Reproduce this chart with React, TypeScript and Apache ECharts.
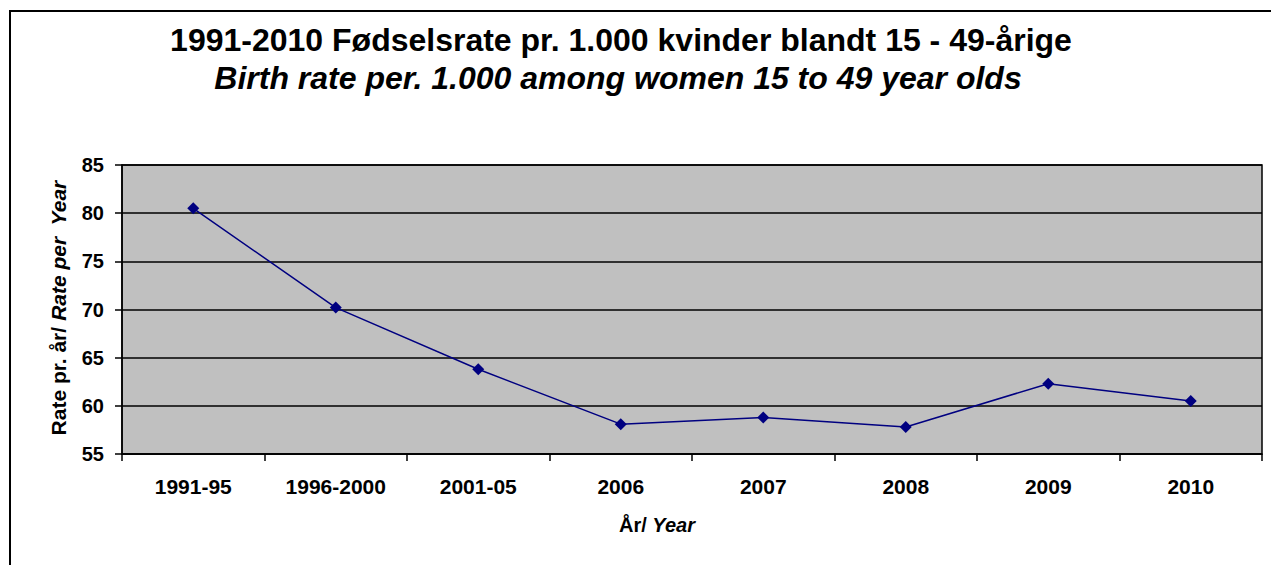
import React, { useEffect, useRef } from "react";
import * as echarts from "echarts";

const categories = ["1991-95", "1996-2000", "2001-05", "2006", "2007", "2008", "2009", "2010"];
const birthRate = [80.5, 70.2, 63.8, 58.1, 58.8, 57.8, 62.3, 60.5];
const yTicks = [55, 60, 65, 70, 75, 80, 85];
const titleLine1 = "1991-2010 Fødselsrate pr. 1.000 kvinder blandt 15 - 49-årige";
const titleLine2 = "Birth rate per. 1.000 among women 15 to 49 year olds";
const yTitleNormal = "Rate pr. år/ ";
const yTitleItalic = "Rate per  Year";
const xTitleNormal = "År/ ";
const xTitleItalic = "Year";

const FONT = "'Liberation Sans', Arial, sans-serif";

export default function App() {
  const ref = useRef<HTMLDivElement>(null);
  useEffect(() => {
    if (!ref.current) return;
    const chart = echarts.init(ref.current, null, { renderer: "svg" });
    chart.setOption({
      animation: false,
      backgroundColor: "#ffffff",
      textStyle: { fontFamily: FONT },
      grid: {
        left: 122,
        top: 165,
        right: 9,
        bottom: 111,
        show: true,
        backgroundColor: "#C0C0C0",
        borderColor: "#000000",
        borderWidth: 1.5,
        containLabel: false,
      },
      xAxis: {
        type: "category",
        data: categories,
        boundaryGap: true,
        axisLine: { show: true, lineStyle: { color: "#000", width: 1.5 } },
        axisTick: { show: true, length: 7, lineStyle: { color: "#000", width: 1.5 } },
        axisLabel: {
          color: "#000",
          fontFamily: FONT,
          fontWeight: "bold",
          fontSize: 21,
          margin: 22,
        },
        splitLine: { show: false },
      },
      yAxis: {
        type: "value",
        min: yTicks[0],
        max: yTicks[yTicks.length - 1],
        interval: 5,
        axisLine: { show: true, lineStyle: { color: "#000", width: 1.5 } },
        axisTick: { show: true, length: 7, lineStyle: { color: "#000", width: 1.5 } },
        axisLabel: {
          color: "#000",
          fontFamily: FONT,
          fontWeight: "bold",
          fontSize: 20,
          margin: 18,
        },
        splitLine: { show: true, lineStyle: { color: "#000", width: 1.5 } },
      },
      series: [
        {
          type: "line",
          data: birthRate,
          symbol: "diamond",
          symbolSize: 12,
          itemStyle: { color: "#000080" },
          lineStyle: { color: "#000080", width: 1.5 },
        },
      ],
      graphic: [
        {
          type: "rect",
          shape: { x: 10, y: 11, width: 1400, height: 700 },
          style: { fill: "none", stroke: "#000", lineWidth: 2 },
          z: 100,
        },
        {
          type: "text",
          x: 621,
          y: 40,
          style: {
            text: titleLine1,
            font: `bold 32px ${FONT}`,
            fill: "#000",
            align: "center",
            verticalAlign: "middle",
          },
        },
        {
          type: "text",
          x: 618,
          y: 78,
          style: {
            text: titleLine2,
            font: `italic bold 32px ${FONT}`,
            fill: "#000",
            align: "center",
            verticalAlign: "middle",
          },
        },
        {
          type: "text",
          x: 58,
          y: 308,
          rotation: Math.PI / 2,
          style: {
            text: `{a|${yTitleNormal}}{b|${yTitleItalic}}`,
            align: "center",
            verticalAlign: "middle",
            rich: {
              a: { fontFamily: FONT, fontWeight: "bold", fontSize: 21, fill: "#000" },
              b: { fontFamily: FONT, fontWeight: "bold", fontStyle: "italic", fontSize: 21, fill: "#000" },
            },
          },
        },
        {
          type: "text",
          x: 657,
          y: 525,
          style: {
            text: `{a|${xTitleNormal}}{b|${xTitleItalic}}`,
            align: "center",
            verticalAlign: "middle",
            rich: {
              a: { fontFamily: FONT, fontWeight: "bold", fontSize: 20, fill: "#000" },
              b: { fontFamily: FONT, fontWeight: "bold", fontStyle: "italic", fontSize: 20, fill: "#000" },
            },
          },
        },
      ],
    });
    return () => chart.dispose();
  }, []);
  return (
    <div
      ref={ref}
      style={{ position: "absolute", left: 0, top: 0, width: 1271, height: 565 }}
    />
  );
}
